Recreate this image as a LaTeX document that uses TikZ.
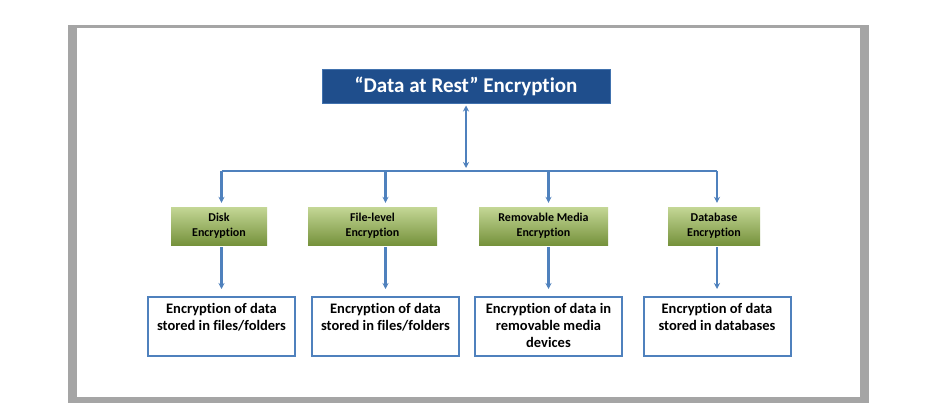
\documentclass[tikz,border=0pt]{standalone}
\usepackage{fontspec}
\setmainfont{Carlito}[Ligatures=NoCommon]
\usepackage{xcolor}
\usetikzlibrary{arrows.meta}

\definecolor{restblue}{RGB}{31,78,140}
\definecolor{linkblue}{RGB}{79,129,189}
\definecolor{greentop}{RGB}{196,215,150}
\definecolor{greenbot}{RGB}{118,146,60}
\definecolor{framegray}{RGB}{165,165,165}

\tikzset{
    restbox/.style={fill=restblue, draw=linkblue!70!restblue, line width=1pt,
        text=white, minimum width=288pt, minimum height=33pt, inner sep=0pt,
        font=\fontsize{21}{24}\selectfont\bfseries},
    kindbox/.style={top color=greentop, bottom color=greenbot, draw=none,
        minimum height=38pt, inner sep=0pt, align=center,
        font=\fontsize{12}{15}\selectfont\bfseries},
    storebox/.style={draw=linkblue, line width=2pt, fill=white,
        minimum width=147pt, minimum height=59pt, inner sep=0pt, align=center,
        text depth=19pt, font=\fontsize{14.5}{17}\selectfont\bfseries},
    link/.style={draw=linkblue, line width=2.2pt},
    tip/.style={-{Stealth[length=6pt,width=6pt]}}
}

\begin{document}
\begin{tikzpicture}[x=1pt,y=-1pt]
\useasboundingbox (0,0) rectangle (948,420);
\fill[framegray] (68,25) rectangle (869,403);
\fill[white] (77,28) rectangle (860,397);

\node[restbox] (rest) at (466,86.5) {“Data at Rest” Encryption};
\coordinate (hub) at (466,171);

\node[kindbox, minimum width=96pt] (disk) at (219,226) {Disk\\Encryption};
\node[kindbox, minimum width=129pt] (file) at (372.5,226) {File-level\\Encryption};
\node[kindbox, minimum width=129pt] (media) at (543.5,226) {Removable Media\\Encryption};
\node[kindbox, minimum width=92pt] (db) at (714,226) {Database\\Encryption};

\node[storebox] (dstore) at (221.5,326.5) {Encryption of data\\stored in files/folders};
\node[storebox] (fstore) at (385.5,326.5) {Encryption of data\\stored in files/folders};
\node[storebox, text depth=2pt] (mstore) at (548.5,326.5) {Encryption of data in\\removable media\\devices};
\node[storebox] (bstore) at (717,326.5) {Encryption of data\\stored in databases};

\draw[link, {Stealth[length=6pt,width=6pt]}-{Stealth[length=6pt,width=6pt]}, shorten <=2pt, shorten >=3pt] (rest) -- (hub);
\draw[link] (hub -| dstore.north) -- (hub -| bstore.north);
\foreach \kind/\store in {disk/dstore, file/fstore, media/mstore, db/bstore} {
    \draw[link, tip, shorten >=4pt] (hub -| \store.north) -- (\kind.north -| \store.north);
    \draw[link, tip, shorten <=2pt, shorten >=7pt] (\kind.south -| \store.north) -- (\store.north);
}
\end{tikzpicture}
\end{document}
